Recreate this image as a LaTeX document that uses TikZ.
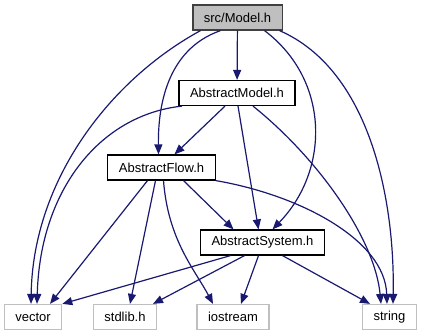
\documentclass[tikz,border=0pt]{standalone}
\usepackage{fontspec}
\setmainfont{Liberation Sans}
\usepackage{xcolor}
\usepackage{tikz}
\usetikzlibrary{arrows.meta}
\definecolor{incblue}{RGB}{25,25,112}
\definecolor{incgray}{RGB}{191,191,191}
\tikzset{
  incf/.style={rectangle, draw=black, fill=white, line width=1.2pt,
               minimum height=25pt, inner xsep=11pt, inner ysep=0pt,
               font=\fontsize{13}{15}\selectfont},
  incsys/.style={incf, draw=incgray},
  incroot/.style={incf, draw=black!75, fill=incgray},
  incw/.style={draw=incblue, line width=1.2pt,
               -{Triangle[length=10pt,width=8pt]}, fill=none}
}
\begin{document}
\begin{tikzpicture}[x=1pt,y=-1pt]
  \useasboundingbox (0,0) rectangle (422,336);
  \node[incroot] (model) at (237.5,17.5) {src/Model.h};
  \node[incf] (amodel) at (237,93) {AbstractModel.h};
  \node[incf] (aflow) at (161.5,167.5) {AbstractFlow.h};
  \node[incf] (asys) at (262.5,242.5) {AbstractSystem.h};
  \node[incsys] (vector) at (33,317) {vector};
  \node[incsys] (stdlib) at (125,317) {stdlib.h};
  \node[incsys] (iostream) at (233,317) {iostream};
  \node[incsys] (string) at (389.5,317) {string};
  % src/Model.h
  \draw[incw] (model) -- (amodel);
  \draw[incw] ([xshift=-37pt]model.south) .. controls (110,80) and (33,180) .. ([xshift=-2pt]vector.north);
  \draw[incw] ([xshift=-17pt]model.south) .. controls (165,50) and (158,110) .. ([xshift=-3pt]aflow.north);
  \draw[incw] ([xshift=27pt]model.south) .. controls (330,80) and (330,170) .. ([xshift=10pt]asys.north);
  \draw[incw] ([xshift=42pt]model.south) .. controls (370,70) and (395,200) .. ([xshift=3.5pt]string.north);
  % AbstractModel.h
  \draw[incw] ([xshift=-12pt]amodel.south) -- ([xshift=13pt]aflow.north);
  \draw[incw] ([xshift=-55pt]amodel.south) .. controls (100,115) and (40,190) .. ([xshift=4pt]vector.north);
  \draw[incw] ([xshift=1pt]amodel.south) -- ([xshift=-4pt]asys.north);
  \draw[incw] ([xshift=16pt]amodel.south) .. controls (320,160) and (375,240) .. ([xshift=-8.5pt]string.north);
  % AbstractFlow.h
  \draw[incw] ([xshift=22pt]aflow.south) -- ([xshift=-29pt]asys.north);
  \draw[incw] (aflow.south east) .. controls (300,195) and (385,240) .. ([xshift=-2.5pt]string.north);
  \draw[incw] ([xshift=-14pt]aflow.south) -- ([xshift=17pt]vector.north);
  \draw[incw] ([xshift=-6pt]aflow.south) -- ([xshift=5pt]stdlib.north);
  \draw[incw] ([xshift=2pt]aflow.south) .. controls (168,240) and (195,270) .. ([xshift=-20pt]iostream.north);
  % AbstractSystem.h
  \draw[incw] ([xshift=-32pt]asys.south) -- (vector.north east);
  \draw[incw] ([xshift=-18pt]asys.south) -- ([xshift=28pt]stdlib.north);
  \draw[incw] ([xshift=-4pt]asys.south) -- ([xshift=8pt]iostream.north);
  \draw[incw] ([xshift=20pt]asys.south) -- ([xshift=-19.5pt]string.north);
\end{tikzpicture}
\end{document}
